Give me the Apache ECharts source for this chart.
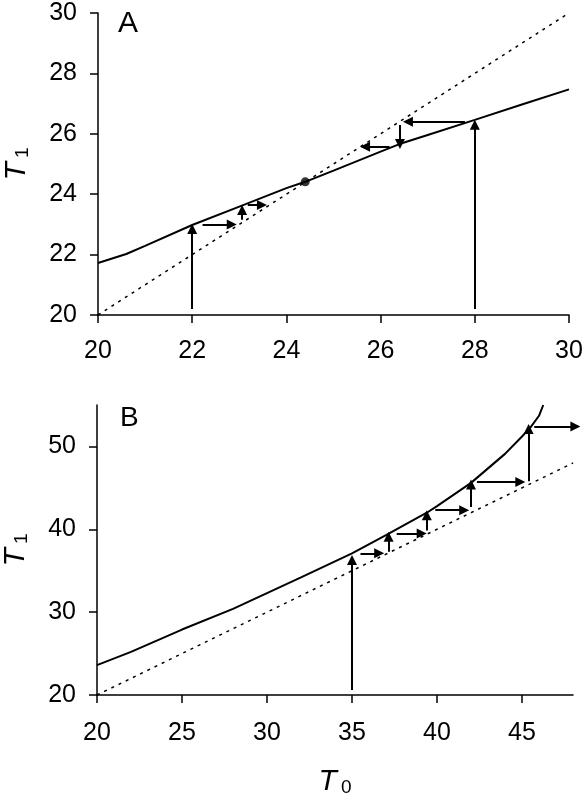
<!DOCTYPE html>
<html>
<head>
<meta charset="utf-8">
<script src="https://cdn.jsdelivr.net/npm/echarts@6/dist/echarts.min.js"></script>
<style>
	html, body { margin: 0; padding: 0; background: #fff; }
	#chart { width: 586px; height: 800px; }
</style>
</head>
<body>
<div id="chart"></div>
<script>
// panel A: T1 as a function of T0, narrow range
const aT0 = [20, 20.6, 21, 22, 23, 24, 24.4, 25, 26, 26.4, 27, 28, 29, 30]
const aT1 = [21.72, 22.02, 22.29, 22.98, 23.59, 24.2, 24.41, 24.78, 25.41, 25.66, 25.96, 26.46, 26.97, 27.47]
const aDiag = [20, 30]
const aFixed = [24.4, 24.41]
// arrows: [x0, y0, x1, y1]
const aArrows = [
	[22, 20.2, 22, 22.85],
	[22.22, 23.0, 22.84, 23.0],
	[23.06, 23.15, 23.06, 23.48],
	[23.18, 23.64, 23.48, 23.64],
	[28, 20.2, 28, 26.3],
	[27.79, 26.4, 26.58, 26.4],
	[26.41, 26.29, 26.41, 25.66],
	[26.19, 25.57, 25.67, 25.57]
]
const aTicks = [20, 22, 24, 26, 28, 30]

// panel B: wide range
const bT0 = [20, 22, 25, 28, 30, 32, 35, 37, 39.4, 40, 42, 44, 45, 45.5, 46, 46.25]
const bT1 = [23.6, 25.2, 27.9, 30.4, 32.3, 34.2, 37.1, 39.3, 42.0, 42.8, 45.6, 49.1, 51.2, 52.3, 53.7, 55]
const bDiag = [20, 48]
const bArrows = [
	[35, 20.6, 35, 36.3],
	[35.5, 37.1, 36.6, 37.1],
	[37.15, 37.3, 37.15, 39.1],
	[37.63, 39.5, 39.1, 39.5],
	[39.4, 39.85, 39.4, 41.7],
	[39.9, 42.3, 41.6, 42.3],
	[42.0, 42.7, 42.0, 45.4],
	[42.35, 45.7, 44.9, 45.7],
	[45.39, 45.8, 45.39, 52.1],
	[45.72, 52.4, 48.14, 52.4]
]
const bXTicks = [20, 25, 30, 35, 40, 45]
const bYTicks = [20, 30, 40, 50]

const font = 'Liberation Sans, Arial, sans-serif'
const nameRich = {
	t: { fontFamily: font, fontSize: 30, fontStyle: 'italic', color: '#000' },
	s: { fontFamily: font, fontSize: 19, color: '#000', verticalAlign: 'bottom', padding: [0, 0, 0, 4] }
}

function axisBase(ticks, margin) {
	return {
		type: 'value',
		axisLine: { show: true, lineStyle: { color: '#000', width: 1.5 } },
		axisTick: { show: true, inside: false, length: 8, customValues: ticks, lineStyle: { color: '#000', width: 1.5 } },
		axisLabel: { customValues: ticks, margin: margin, fontFamily: font, fontSize: 25, color: '#000' },
		splitLine: { show: false }
	}
}

function zip(xs, ys) {
	return xs.map((x, i) => [x, ys[i]])
}

function arrowSeries(list, idx) {
	return {
		type: 'lines', coordinateSystem: 'cartesian2d',
		xAxisIndex: idx, yAxisIndex: idx,
		clip: false,
		symbol: ['none', 'triangle'], symbolSize: [8, 10],
		lineStyle: { color: '#000', width: 2, opacity: 1 },
		data: list.map(a => ({ coords: [[a[0], a[1]], [a[2], a[3]]] }))
	}
}

let chart = echarts.init(document.getElementById('chart'), null, { renderer: 'canvas' })
let option = {
	animation: false,
	backgroundColor: '#fff',
	grid: [
		{ left: 98, top: 13, right: 17, height: 302, outerBoundsMode: 'none', containLabel: false },
		{ left: 97, top: 405, right: 13, height: 290, outerBoundsMode: 'none', containLabel: false }
	],
	xAxis: [
		Object.assign(axisBase(aTicks, 24), { gridIndex: 0, min: 20, max: 30 }),
		Object.assign(axisBase(bXTicks, 26), {
			gridIndex: 1, min: 20, max: 48,
			name: '{t|T}{s|0}', nameLocation: 'middle', nameGap: 72,
			nameTextStyle: { rich: nameRich }
		})
	],
	yAxis: [
		Object.assign(axisBase(aTicks, 21), {
			gridIndex: 0, min: 20, max: 30,
			name: '{t|T}{s|1}', nameLocation: 'middle', nameGap: 66,
			nameTextStyle: { rich: nameRich }
		}),
		Object.assign(axisBase(bYTicks, 21), {
			gridIndex: 1, min: 20, max: 55,
			name: '{t|T}{s|1}', nameLocation: 'middle', nameGap: 66,
			nameTextStyle: { rich: nameRich }
		})
	],
	graphic: [
		{ type: 'text', left: 118, top: 9, style: { text: 'A', fontFamily: font, fontSize: 30, fill: '#000' } },
		{ type: 'text', left: 120, top: 404, style: { text: 'B', fontFamily: font, fontSize: 28, fill: '#000' } }
	],
	series: [
		{
			type: 'line', xAxisIndex: 0, yAxisIndex: 0, showSymbol: false,
			lineStyle: { color: '#000', width: 1.5, type: [3, 5] },
			data: zip(aDiag, aDiag)
		},
		{
			type: 'line', xAxisIndex: 0, yAxisIndex: 0, showSymbol: false,
			lineStyle: { color: '#000', width: 2 },
			data: zip(aT0, aT1)
		},
		{
			type: 'scatter', xAxisIndex: 0, yAxisIndex: 0, symbolSize: 9,
			itemStyle: { color: '#000' },
			data: [aFixed]
		},
		arrowSeries(aArrows, 0),
		{
			type: 'line', xAxisIndex: 1, yAxisIndex: 1, showSymbol: false,
			lineStyle: { color: '#000', width: 1.5, type: [3, 5] },
			data: zip(bDiag, bDiag)
		},
		{
			type: 'line', xAxisIndex: 1, yAxisIndex: 1, showSymbol: false,
			lineStyle: { color: '#000', width: 2 },
			data: zip(bT0, bT1)
		},
		arrowSeries(bArrows, 1)
	]
}
chart.setOption(option)
</script>
</body>
</html>
